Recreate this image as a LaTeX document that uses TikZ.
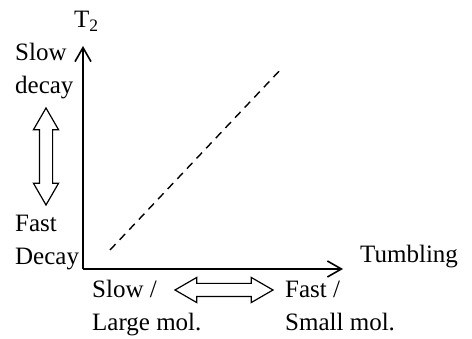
\documentclass[tikz,border=0pt]{standalone}
\usepackage{fontspec}
\setmainfont{Liberation Serif}
\usetikzlibrary{arrows.meta, positioning, shapes.arrows}
\tikzset{
  axis/.style={-{Straight Barb[length=14pt, width=16pt]}, line width=1.6pt},
  trend/.style={dash pattern=on 8pt off 6pt, line width=1.4pt},
  txt/.style={align=left, anchor=base west, inner sep=0pt, font=\fontsize{25}{33}\selectfont},
  dblarrow/.style={draw, double arrow, line width=1.2pt, inner sep=0pt, text height=12pt, text depth=0pt,
    double arrow head extend=6pt, double arrow tip angle=60},
  every node/.style={font=\fontsize{25}{33}\selectfont}
}
\begin{document}
\begin{tikzpicture}[x=1pt, y=-1pt]
    \useasboundingbox (0,0) rectangle (472,339);
    % axes
    \coordinate (origin) at (83,269);
    \coordinate (ytip) at (83,46);
    \coordinate (xtip) at (343,269);
    \draw[axis] (origin) -- (ytip);
    \draw[axis] (origin) -- (xtip);
    \node[txt] (t2) at (74,28) {T\textsubscript{2}};
    \node[txt] (tumb) at (360,263) {Tumbling};

    % trend line
    \coordinate (lo) at (110,250);
    \coordinate (hi) at (283,67);
    \draw[trend] (lo) -- (hi);

    % vertical labels
    \node[txt] (slowdec) at (15,94) {Slow\\decay};
    \node[txt] (fastdec) at (15,265) {Fast\\Decay};
    \node[dblarrow, rotate=90, minimum height=97pt] (vdbl) at (46,156.5) {};

    % horizontal labels
    \node[txt] (slowmol) at (92,331) {Slow /\\Large mol.};
    \node[txt] (fastmol) at (285,331) {Fast /\\Small mol.};
    \node[dblarrow, minimum height=98pt] (hdbl) at (224,290) {};
\end{tikzpicture}
\end{document}
